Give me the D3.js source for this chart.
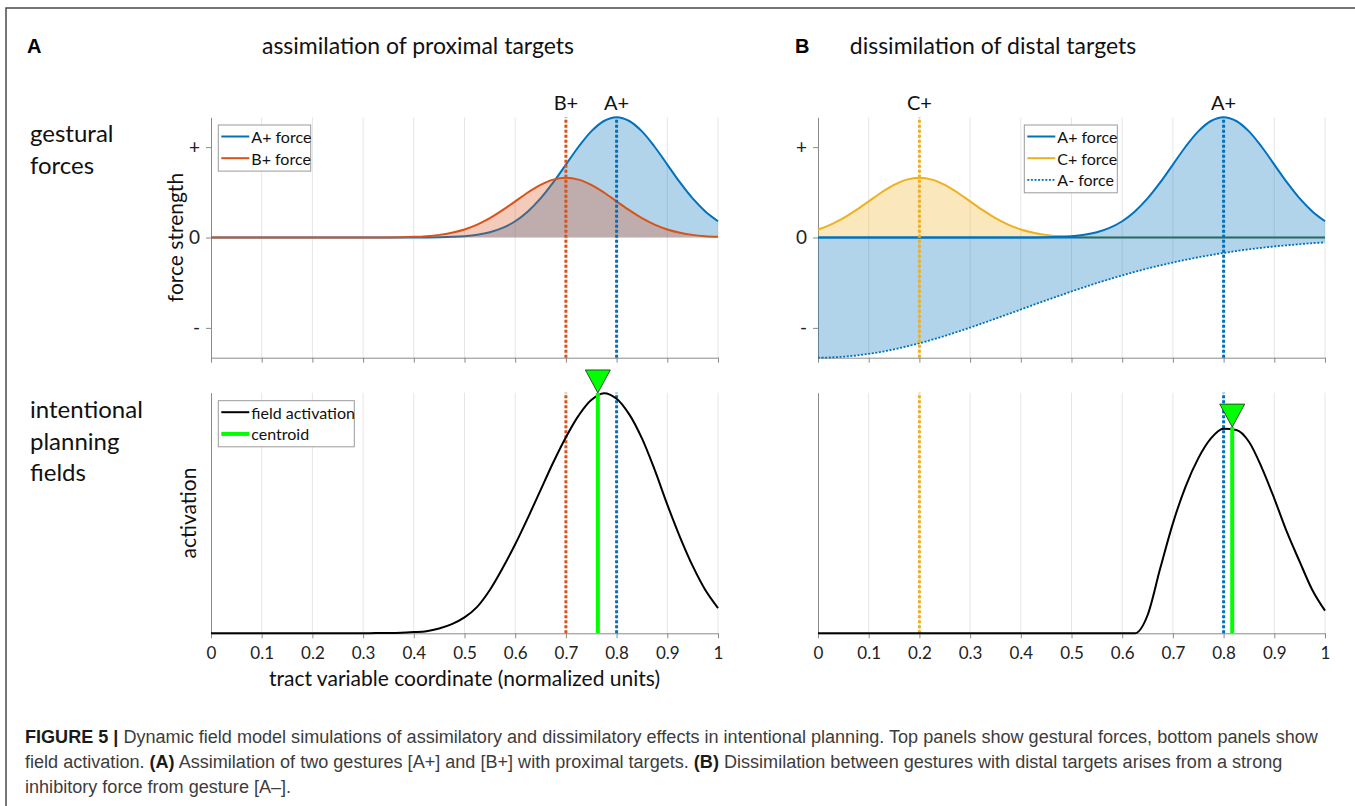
<!doctype html>
<html>
<head>
<meta charset="utf-8">
<style>
    body { margin: 0; background: #fff; }
    svg { display: block; font-family: Lato, "Open Sans", sans-serif; }
    .grid line { stroke: #e6e6e6; stroke-width: 1; }
    .axis path, .axis line { stroke: #8a8a8a; }
    .axis text { fill: #222; font-size: 17px; font-family: Lato, sans-serif; }
    .yforce text { font-size: 19px; }
    .caption { font-family: "Liberation Sans", Arial, sans-serif; font-size: 19px; fill: #3c3c3c; }
    .caption .b { font-weight: bold; fill: #1a1a1a; }
</style>
<script src="https://d3js.org/d3.v7.min.js"></script>
</head>
<body>
<svg width="1355" height="806"></svg>
<script>

    // sample positions along the tract variable (0 .. 1, every 0.025)
    var xs = d3.range(41).map(function(i) { return i * 0.025; });

    // panel A forces
    var forceAplusA = [0,0,0,0,0,0,0,0,0,0,0,0,0,0,0,0,0,
        0.001,0.003,0.007,0.015,0.030,0.058,0.106,0.180,0.288,0.432,0.609,0.807,1.004,1.174,1.289,
        1.33,1.289,1.174,1.004,0.807,0.609,0.432,0.288,0.180];
    var forceBplus = [0,0,0,0,0,0,0,0,0,0,0,0,0,0,
        0.001,0.003,0.007,0.015,0.029,0.053,0.089,0.143,0.214,0.302,0.400,0.498,0.582,0.640,
        0.66,0.640,0.582,0.498,0.400,0.302,0.214,0.143,0.089,0.053,0.029,0.015,0.007];

    // panel B forces
    var forceAplusB = forceAplusA.slice();
    var forceCplus = [0.089,0.143,0.214,0.302,0.400,0.498,0.582,0.640,0.66,0.640,0.582,0.498,0.400,
        0.302,0.214,0.143,0.089,0.053,0.029,0.015,0.007,0.003,0.001,
        0,0,0,0,0,0,0,0,0,0,0,0,0,0,0,0,0,0];
    var forceAminus = [-1.33,-1.327,-1.319,-1.306,-1.288,-1.265,-1.237,-1.205,-1.170,-1.131,-1.089,
        -1.044,-0.997,-0.948,-0.898,-0.848,-0.797,-0.745,-0.695,-0.646,-0.597,-0.550,-0.504,-0.461,
        -0.419,-0.380,-0.343,-0.309,-0.277,-0.247,-0.219,-0.194,-0.171,-0.150,-0.131,-0.114,-0.099,
        -0.086,-0.074,-0.063,-0.054];

    // field activations
    var activationA = [0,0,0,0,0,0,0,0,0,0,0,0,0,
        0.001,0.001,0.002,0.005,0.009,0.02,0.038,0.066,0.11,0.18,0.27,0.37,0.48,0.595,0.71,
        0.815,0.905,0.97,0.998,0.975,0.91,0.81,0.68,0.535,0.40,0.28,0.18,0.105];
    var activationB = [0,0,0,0,0,0,0,0,0,0,0,0,0,0,0,0,0,0,0,0,0,0,0,0,0,0,
        0.075,0.27,0.457,0.61,0.727,0.81,0.85,0.845,0.796,0.69,0.56,0.42,0.298,0.18,0.094];

    var xTicks = [0, 0.1, 0.2, 0.3, 0.4, 0.5, 0.6, 0.7, 0.8, 0.9, 1];
    var yForceTicks = [1, 0, -1];
    var yForceLabels = ["+", "0", "-"];

    var targetLabelsA = ["B+", "A+"], targetPosA = [0.7, 0.8];
    var targetLabelsB = ["C+", "A+"], targetPosB = [0.2, 0.8];
    var centroidA = 0.763, centroidHeightA = 0.999;
    var centroidB = 0.817, centroidHeightB = 0.857;

    var blue = "#0072BD", orange = "#D95319", yellow = "#EDB120", green = "#00FF00";

    var svg = d3.select("svg");

    var xA = d3.scaleLinear().domain([0, 1]).range([211, 718]);
    var xB = d3.scaleLinear().domain([0, 1]).range([818, 1325]);
    var yF = d3.scaleLinear().domain([-1.33, 1.33]).range([357.7, 117.3]);
    var yAct = d3.scaleLinear().domain([0, 1]).range([633.3, 392.7]);

    // figure frame
    svg.append("path")
        .attr("d", "M6,806 V8 H1355")
        .attr("fill", "none")
        .attr("stroke", "#4a4a4a")
        .attr("stroke-width", 1.5);

    function grid(x, y) {
        svg.append("g").attr("class", "grid")
            .selectAll("line")
            .data(xTicks.slice(1))
            .enter().append("line")
            .attr("x1", function(d) { return x(d); })
            .attr("x2", function(d) { return x(d); })
            .attr("y1", y.range()[0])
            .attr("y2", y.range()[1]);
    }

    function areaPath(x, y, vals, curve) {
        return d3.area()
            .x(function(d, i) { return x(xs[i]); })
            .y0(y(0))
            .y1(function(d) { return y(d); })
            .curve(curve || d3.curveCatmullRom)(vals);
    }

    function linePath(x, y, vals, curve) {
        return d3.line()
            .x(function(d, i) { return x(xs[i]); })
            .y(function(d) { return y(d); })
            .curve(curve || d3.curveCatmullRom)(vals);
    }

    function fill(x, y, vals, color, curve) {
        svg.append("path")
            .attr("d", areaPath(x, y, vals, curve))
            .attr("fill", color)
            .attr("fill-opacity", 0.3);
    }

    function curve(x, y, vals, color, dash, width, c) {
        svg.append("path")
            .attr("d", linePath(x, y, vals, c))
            .attr("fill", "none")
            .attr("stroke", color)
            .attr("stroke-width", width || 2)
            .attr("stroke-dasharray", dash || null);
    }

    function forceAxes(x) {
        svg.append("g").attr("class", "axis")
            .attr("transform", "translate(0," + yF.range()[0] + ")")
            .call(d3.axisBottom(x).tickValues(xTicks).tickFormat("").tickSize(5).tickSizeOuter(0));
        svg.append("g").attr("class", "axis yforce")
            .attr("transform", "translate(" + x.range()[0] + ",0)")
            .call(d3.axisLeft(yF).tickValues(yForceTicks)
                .tickFormat(function(d, i) { return yForceLabels[i]; })
                .tickSize(5).tickSizeOuter(0).tickPadding(6));
    }

    function activationAxes(x) {
        svg.append("g").attr("class", "axis")
            .attr("transform", "translate(0," + yAct.range()[0] + ")")
            .call(d3.axisBottom(x).tickValues(xTicks).tickFormat(d3.format("")).tickSize(5).tickSizeOuter(0).tickPadding(9));
        svg.append("g").attr("class", "axis")
            .attr("transform", "translate(" + x.range()[0] + ",0)")
            .call(d3.axisLeft(yAct).tickValues([]).tickSizeOuter(0));
    }

    function targetLines(x, y, pos, colors) {
        svg.append("g").selectAll("line")
            .data(pos)
            .enter().append("line")
            .attr("x1", function(d) { return x(d); })
            .attr("x2", function(d) { return x(d); })
            .attr("y1", y.range()[0])
            .attr("y2", y.range()[1])
            .attr("stroke", function(d, i) { return colors[i]; })
            .attr("stroke-width", 3)
            .attr("stroke-dasharray", "3,2");
    }

    function targetLabels(x, pos, labels) {
        svg.append("g").selectAll("text")
            .data(labels)
            .enter().append("text")
            .attr("x", function(d, i) { return x(pos[i]); })
            .attr("y", 110)
            .attr("text-anchor", "middle")
            .attr("font-size", "20px")
            .attr("fill", "#111")
            .text(function(d) { return d; });
    }

    function centroid(x, c, h) {
        svg.append("line")
            .attr("x1", x(c)).attr("x2", x(c))
            .attr("y1", yAct(0)).attr("y2", yAct(h))
            .attr("stroke", green)
            .attr("stroke-width", 4);
        var tx = x(c), ty = yAct(h);
        svg.append("path")
            .attr("d", "M" + tx + "," + ty + " L" + (tx - 12.5) + "," + (ty - 23) + " L" + (tx + 12.5) + "," + (ty - 23) + " Z")
            .attr("fill", green)
            .attr("stroke", "#222")
            .attr("stroke-width", 0.8);
    }

    function legend(x0, y0, w, entries) {
        var g = svg.append("g");
        g.append("rect")
            .attr("x", x0).attr("y", y0)
            .attr("width", w).attr("height", entries.length * 21.7 + 2.7)
            .attr("fill", "#fff")
            .attr("stroke", "#9a9a9a")
            .attr("stroke-width", 1);
        entries.forEach(function(e, i) {
            var yy = y0 + 11.5 + i * 21.7;
            g.append("line")
                .attr("x1", x0 + 3).attr("x2", x0 + 31)
                .attr("y1", yy).attr("y2", yy)
                .attr("stroke", e.color)
                .attr("stroke-width", e.width || 2)
                .attr("stroke-dasharray", e.dash || null);
            g.append("text")
                .attr("x", x0 + 33).attr("y", yy)
                .attr("dominant-baseline", "central")
                .attr("font-size", "16px")
                .attr("fill", "#111")
                .text(e.label);
        });
    }

    // ---------- panel A, forces ----------
    grid(xA, yF);
    forceAxes(xA);
    fill(xA, yF, forceAplusA, blue);
    curve(xA, yF, forceAplusA, blue);
    fill(xA, yF, forceBplus, orange);
    curve(xA, yF, forceBplus, orange);
    targetLines(xA, yF, targetPosA, [orange, blue]);
    targetLabels(xA, targetPosA, targetLabelsA);
    legend(218.3, 125, 92.4, [
        {label: "A+ force", color: blue},
        {label: "B+ force", color: orange}
    ]);

    // ---------- panel B, forces ----------
    grid(xB, yF);
    forceAxes(xB);
    fill(xB, yF, forceAminus, blue);
    fill(xB, yF, forceAplusB, blue);
    fill(xB, yF, forceCplus, yellow);
    curve(xB, yF, forceCplus, yellow);
    curve(xB, yF, forceAplusB, blue);
    svg.append("line")
        .attr("x1", xB(0)).attr("x2", xB(1))
        .attr("y1", yF(0)).attr("y2", yF(0))
        .attr("stroke", blue).attr("stroke-width", 2);
    curve(xB, yF, forceAminus, blue, "2,1.6", 1.8);
    targetLines(xB, yF, targetPosB, [yellow, blue]);
    targetLabels(xB, targetPosB, targetLabelsB);
    legend(1024.3, 125, 93, [
        {label: "A+ force", color: blue},
        {label: "C+ force", color: yellow},
        {label: "A- force", color: blue, dash: "2,1.6", width: 1.8}
    ]);

    // ---------- panel A, field ----------
    grid(xA, yAct);
    activationAxes(xA);
    targetLines(xA, yAct, targetPosA, [orange, blue]);
    curve(xA, yAct, activationA, "#000");
    centroid(xA, centroidA, centroidHeightA);
    legend(218.3, 400.7, 136, [
        {label: "field activation", color: "#000"},
        {label: "centroid", color: green, width: 4}
    ]);

    // ---------- panel B, field ----------
    grid(xB, yAct);
    activationAxes(xB);
    targetLines(xB, yAct, targetPosB, [yellow, blue]);
    curve(xB, yAct, activationB, "#000", null, 2, d3.curveMonotoneX);
    centroid(xB, centroidB, centroidHeightB);

    // ---------- text ----------
    svg.append("text").attr("x", 27).attr("y", 53)
        .attr("font-family", "Liberation Sans, Arial, sans-serif")
        .attr("font-weight", "bold").attr("font-size", "20px").text("A");
    svg.append("text").attr("x", 795).attr("y", 53)
        .attr("font-family", "Liberation Sans, Arial, sans-serif")
        .attr("font-weight", "bold").attr("font-size", "20px").text("B");
    svg.append("text").attr("x", 418).attr("y", 54)
        .attr("text-anchor", "middle").attr("font-size", "23px").attr("fill", "#111")
        .text("assimilation of proximal targets");
    svg.append("text").attr("x", 993).attr("y", 54)
        .attr("text-anchor", "middle").attr("font-size", "23px").attr("fill", "#111")
        .text("dissimilation of distal targets");

    var rowLabels = [
        {lines: ["gestural", "forces"], y: 142},
        {lines: ["intentional", "planning", "fields"], y: 418}
    ];
    rowLabels.forEach(function(r) {
        r.lines.forEach(function(t, i) {
            svg.append("text").attr("x", 30).attr("y", r.y + i * 31.5)
                .attr("font-size", "24px").attr("fill", "#111").text(t);
        });
    });

    svg.append("text")
        .attr("transform", "translate(174," + yF(0) + ") rotate(-90)")
        .attr("text-anchor", "middle").attr("dominant-baseline", "central")
        .attr("font-size", "21px").attr("fill", "#111")
        .text("force strength");
    svg.append("text")
        .attr("transform", "translate(187," + yAct(0.5) + ") rotate(-90)")
        .attr("text-anchor", "middle").attr("dominant-baseline", "central")
        .attr("font-size", "21px").attr("fill", "#111")
        .text("activation");
    svg.append("text")
        .attr("x", (xA(0) + xA(1)) / 2).attr("y", 686)
        .attr("text-anchor", "middle").attr("font-size", "21px").attr("fill", "#111")
        .text("tract variable coordinate (normalized units)");

    // caption: one horizontal squeeze for all lines, taken from the first line's width
    var captionLines = [
        {y: 743, parts: [
            ["FIGURE 5 |", true],
            [" Dynamic field model simulations of assimilatory and dissimilatory effects in intentional planning. Top panels show gestural forces, bottom panels show", false]]},
        {y: 768, parts: [
            ["field activation. ", false], ["(A)", true],
            [" Assimilation of two gestures [A+] and [B+] with proximal targets. ", false], ["(B)", true],
            [" Dissimilation between gestures with distal targets arises from a strong", false]]},
        {y: 793, parts: [
            ["inhibitory force from gesture [A\u2013].", false]]}
    ];
    var captionWidth = 1294, squeeze = 1;
    captionLines.forEach(function(l, k) {
        var t = svg.append("text").attr("class", "caption").attr("x", 0).attr("y", 0);
        l.parts.forEach(function(p) {
            t.append("tspan").attr("class", p[1] ? "b" : null).text(p[0]);
        });
        if (k === 0) squeeze = captionWidth / t.node().getComputedTextLength();
        t.attr("transform", "translate(25," + l.y + ") scale(" + squeeze + ",1)");
    });

</script>
</body>
</html>
